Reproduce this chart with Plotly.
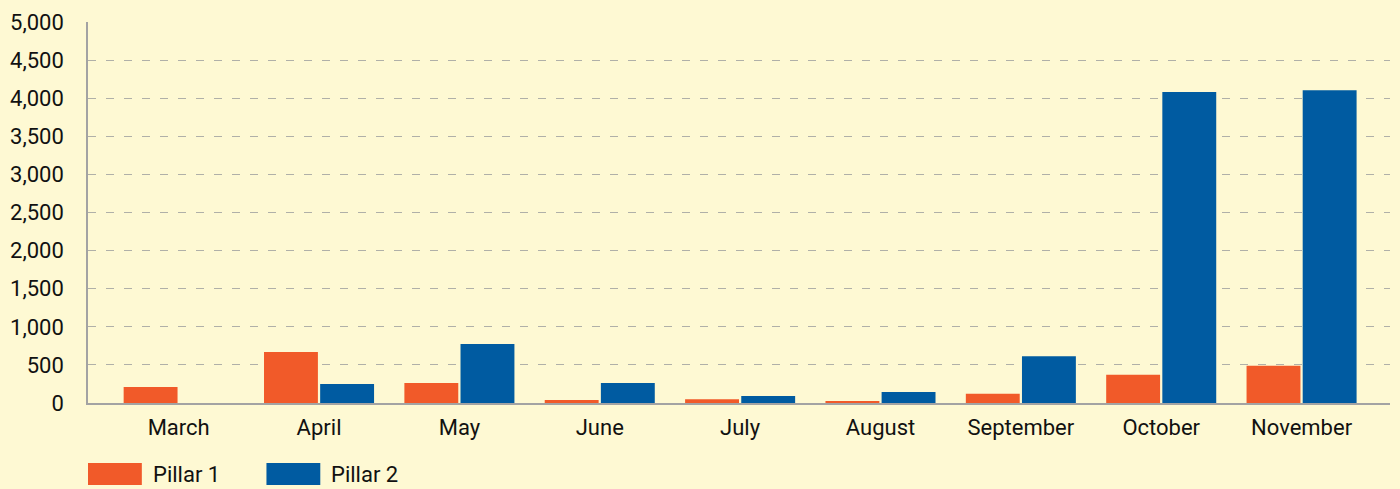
import plotly.graph_objects as go

months = ["March", "April", "May", "June", "July", "August", "September", "October", "November"]
pillar1 = [210, 670, 262, 40, 50, 25, 120, 370, 490]
pillar2 = [0, 250, 775, 262, 92, 145, 615, 4080, 4105]
series_names = ["Pillar 1", "Pillar 2"]
colors = ["#F15A29", "#005BA1"]
y_ticks = [0, 500, 1000, 1500, 2000, 2500, 3000, 3500, 4000, 4500, 5000]

FONT = "Liberation Sans Narrow, Roboto, Arial Narrow, sans-serif"
BG = "#FEF9D3"

fig = go.Figure()
for name, vals, col in zip(series_names, [pillar1, pillar2], colors):
    fig.add_trace(go.Bar(x=months, y=vals, name=name, marker=dict(color=col, line=dict(width=0)),
                         showlegend=False))

W, H = 1400, 489
L, R, T, B = 84, 10, 22, 86
pw, ph = W - L - R, H - T - B

def px2x(p):
    return (p - L) / pw

def px2y(p):
    return (H - B - p) / ph

# custom legend
legend_items = [(84, 138, 147), (263, 317, 326)]
for (x0, x1, tx), name, col in zip(legend_items, series_names, colors):
    fig.add_shape(type="rect", xref="paper", yref="paper",
                  x0=px2x(x0), x1=px2x(x1), y0=px2y(485), y1=px2y(463),
                  fillcolor=col, line=dict(width=0))
    fig.add_annotation(xref="paper", yref="paper", x=px2x(tx), y=px2y(474),
                       text=name, showarrow=False, xanchor="left", yanchor="middle",
                       font=dict(family=FONT, size=22, color="#111111"))

fig.update_layout(
    width=W, height=H,
    margin=dict(l=L, r=R, t=T, b=B),
    paper_bgcolor=BG, plot_bgcolor=BG,
    barmode="group", bargap=0.2, bargroupgap=0.04,
    font=dict(family=FONT, size=22, color="#111111"),
    xaxis=dict(type="category", range=[-0.646, 8.63], showgrid=False,
               showline=True, linecolor="#A3A3A3", linewidth=2,
               ticks="", tickfont=dict(size=22), ticklabelstandoff=4),
    yaxis=dict(range=[0, 5000], tickvals=y_ticks, tickformat=",",
               showgrid=True, gridcolor="#B0B0A8", griddash="8px,10px", gridwidth=1,
               showline=True, linecolor="#A3A3A3", linewidth=1.5,
               zeroline=False, ticks="", tickfont=dict(size=22), ticklabelstandoff=18),
)

fig.write_html("out.html", config={"displayModeBar": False},
               post_script="document.body.style.margin='0';document.body.style.background='%s';" % BG)
